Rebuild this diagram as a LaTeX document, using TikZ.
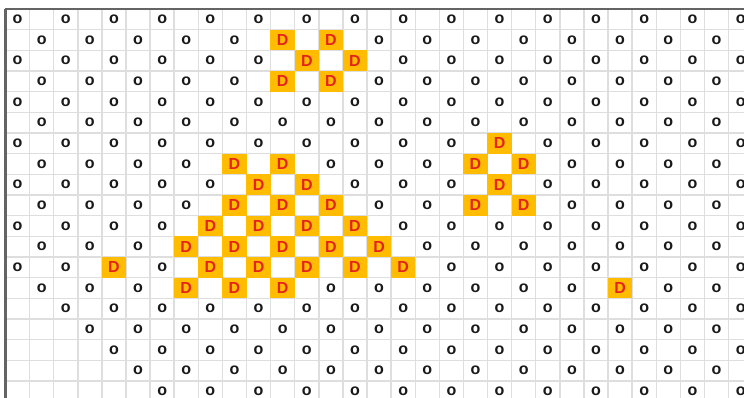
\documentclass[tikz,border=0pt]{standalone}
\usepackage{fontspec}
\setmainfont{Liberation Sans}

\definecolor{gridgray}{RGB}{222,222,222}
\definecolor{edgegray}{RGB}{100,100,100}
\definecolor{dfill}{RGB}{255,188,0}
\definecolor{dred}{RGB}{228,36,26}

\tikzset{
  gridline/.style={draw=gridgray, line width=1.1pt},
  edgeline/.style={draw=edgegray, line width=1.6pt},
  piece/.style={inner sep=0pt, text=black!90, font=\fontsize{12}{12}\selectfont\bfseries},
  dcell/.style={fill=dfill, inner sep=0pt, minimum width=18.3pt, minimum height=15.7pt,
    text=dred, font=\fontsize{12}{12}\selectfont\bfseries},
}

\begin{document}
\begin{tikzpicture}[x=18.075pt, y=-15.5pt]
  \useasboundingbox (-0.228,-0.435) rectangle (30.64,18.82);
  \clip (-0.228,-0.435) rectangle (30.64,18.82);
  % grid of cells
  \foreach \c in {1,...,31} \draw[gridline] (\c,0) -- (\c,19);
  \foreach \r in {1,...,19} \draw[gridline] (0,\r) -- (31,\r);
  \draw[edgeline] (-0.02,0) -- (31,0);
  \draw[edgeline] (0,0) -- (0,19);
  % cells marked D (row/column)
  \foreach \r/\c in {1/11,1/13,2/12,2/14,3/11,3/13,
                     6/20,7/9,7/11,7/19,7/21,8/10,8/12,8/20,
                     9/9,9/11,9/13,9/19,9/21,10/8,10/10,10/12,10/14,
                     11/7,11/9,11/11,11/13,11/15,
                     12/4,12/8,12/10,12/12,12/14,12/16,
                     13/7,13/9,13/11,13/25}
    {\expandafter\gdef\csname dmark-\r-\c\endcsname{}}
  % checkerboard of pieces, empty corner at lower left
  \foreach \r in {0,...,18} {
    \foreach \c in {0,...,30} {
      \ifodd\numexpr\r+\c\relax\else
        \ifnum\c<\numexpr\r-12\relax\else
          \ifcsname dmark-\r-\c\endcsname
            \node[dcell] (d-\r-\c) at (\c+0.5,\r+0.5) {D};
          \else
            \node[piece] (o-\r-\c) at (\c+0.5,\r+0.5) {o};
          \fi
        \fi
      \fi
    }
  }
\end{tikzpicture}
\end{document}
